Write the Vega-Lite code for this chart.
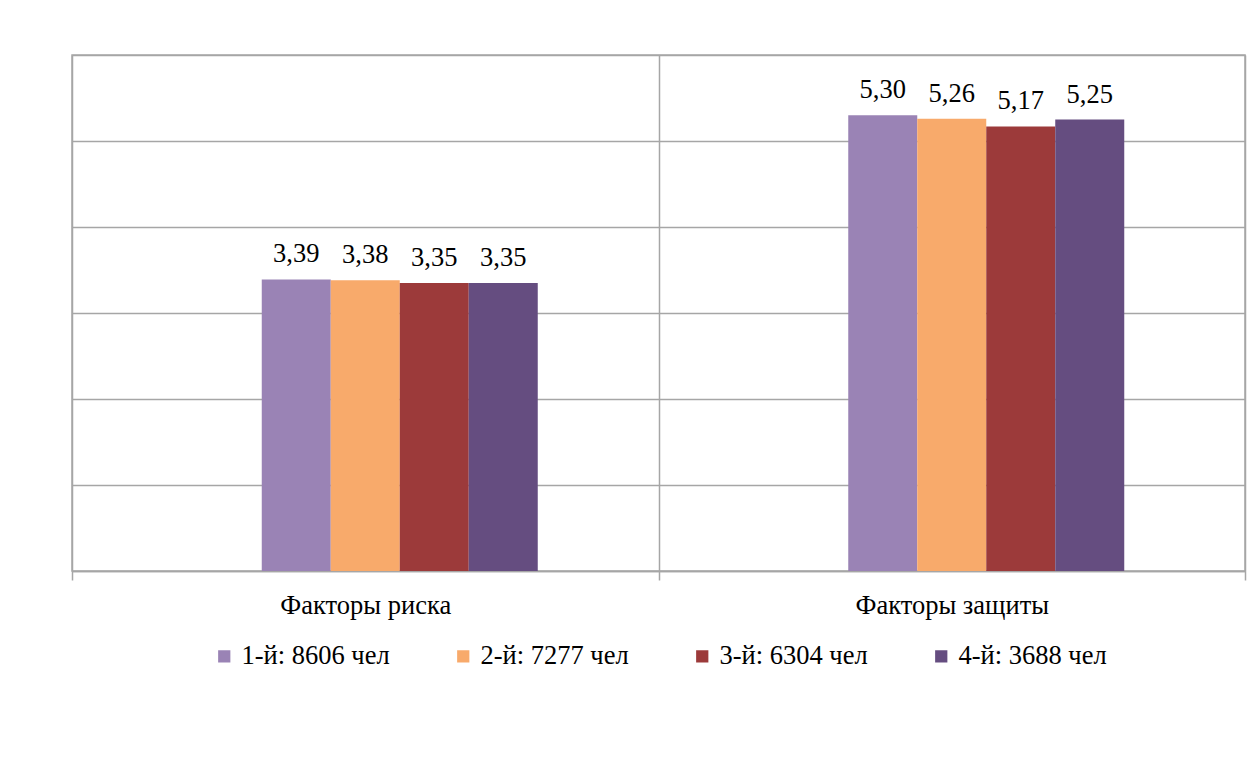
{
  "$schema": "https://vega.github.io/schema/vega-lite/v6.json",
  "autosize": "none",
  "width": 1173,
  "height": 516,
  "padding": {"left": 72, "top": 55, "right": 3, "bottom": 201},
  "background": "white",
  "config": {
    "locale": {"number": {"decimal": ",", "thousands": " ", "grouping": [3], "currency": ["", ""]}},
    "view": {"stroke": "#a6a6a6", "strokeWidth": 1.5},
    "font": "Liberation Serif",
    "legend": {"layout": {"bottom": {"anchor": "middle"}}}
  },
  "data": {
    "values": [
      {"cat": "Факторы риска", "series": "1-й: 8606 чел", "value": 3.39},
      {"cat": "Факторы риска", "series": "2-й: 7277 чел", "value": 3.38},
      {"cat": "Факторы риска", "series": "3-й: 6304 чел", "value": 3.35},
      {"cat": "Факторы риска", "series": "4-й: 3688 чел", "value": 3.35},
      {"cat": "Факторы защиты", "series": "1-й: 8606 чел", "value": 5.30},
      {"cat": "Факторы защиты", "series": "2-й: 7277 чел", "value": 5.26},
      {"cat": "Факторы защиты", "series": "3-й: 6304 чел", "value": 5.17},
      {"cat": "Факторы защиты", "series": "4-й: 3688 чел", "value": 5.25}
    ]
  },
  "encoding": {
    "x": {
      "field": "cat", "type": "nominal", "sort": ["Факторы риска", "Факторы защиты"],
      "scale": {"paddingInner": 0, "paddingOuter": 0},
      "axis": {
        "title": null, "labelAngle": 0, "tickBand": "extent", "grid": true,
        "gridColor": "#a6a6a6", "gridWidth": 1.5,
        "domainColor": "#a6a6a6", "domainWidth": 1.5,
        "tickColor": "#a6a6a6", "tickWidth": 1.5, "tickSize": 9,
        "labelFont": "Liberation Serif", "labelFontSize": 26.5, "labelColor": "#000000",
        "labelPadding": 12, "labelLimit": 500
      }
    },
    "xOffset": {
      "field": "series", "type": "nominal",
      "scale": {
        "domain": ["_a", "_b", "1-й: 8606 чел", "2-й: 7277 чел", "3-й: 6304 чел", "4-й: 3688 чел", "_c"],
        "paddingInner": 0, "paddingOuter": 0.75
      }
    },
    "y": {
      "field": "value", "type": "quantitative",
      "scale": {"domain": [0, 6], "nice": false},
      "axis": {
        "title": null, "labels": false, "ticks": false, "domain": false,
        "values": [0, 1, 2, 3, 4, 5, 6], "grid": true,
        "gridColor": "#a6a6a6", "gridWidth": 1.5
      }
    }
  },
  "layer": [
    {
      "mark": {"type": "bar"},
      "encoding": {
        "color": {
          "field": "series", "type": "nominal",
          "sort": ["1-й: 8606 чел", "2-й: 7277 чел", "3-й: 6304 чел", "4-й: 3688 чел"],
          "scale": {"range": ["#9a83b5", "#f8aa6b", "#9c3a3a", "#654d80"]},
          "legend": {
            "title": null, "orient": "bottom", "direction": "horizontal",
            "symbolType": "square", "symbolSize": 150, "symbolStrokeWidth": 0,
            "labelFont": "Liberation Serif", "labelFontSize": 26.5, "labelColor": "#000000",
            "columnPadding": 60, "labelLimit": 400, "offset": 24, "symbolOffset": 0
          }
        }
      }
    },
    {
      "mark": {"type": "text", "baseline": "alphabetic", "dy": -17, "font": "Liberation Serif", "fontSize": 26.5, "color": "#000000"},
      "encoding": {
        "text": {"field": "value", "type": "quantitative", "format": ".2f"}
      }
    }
  ]
}
